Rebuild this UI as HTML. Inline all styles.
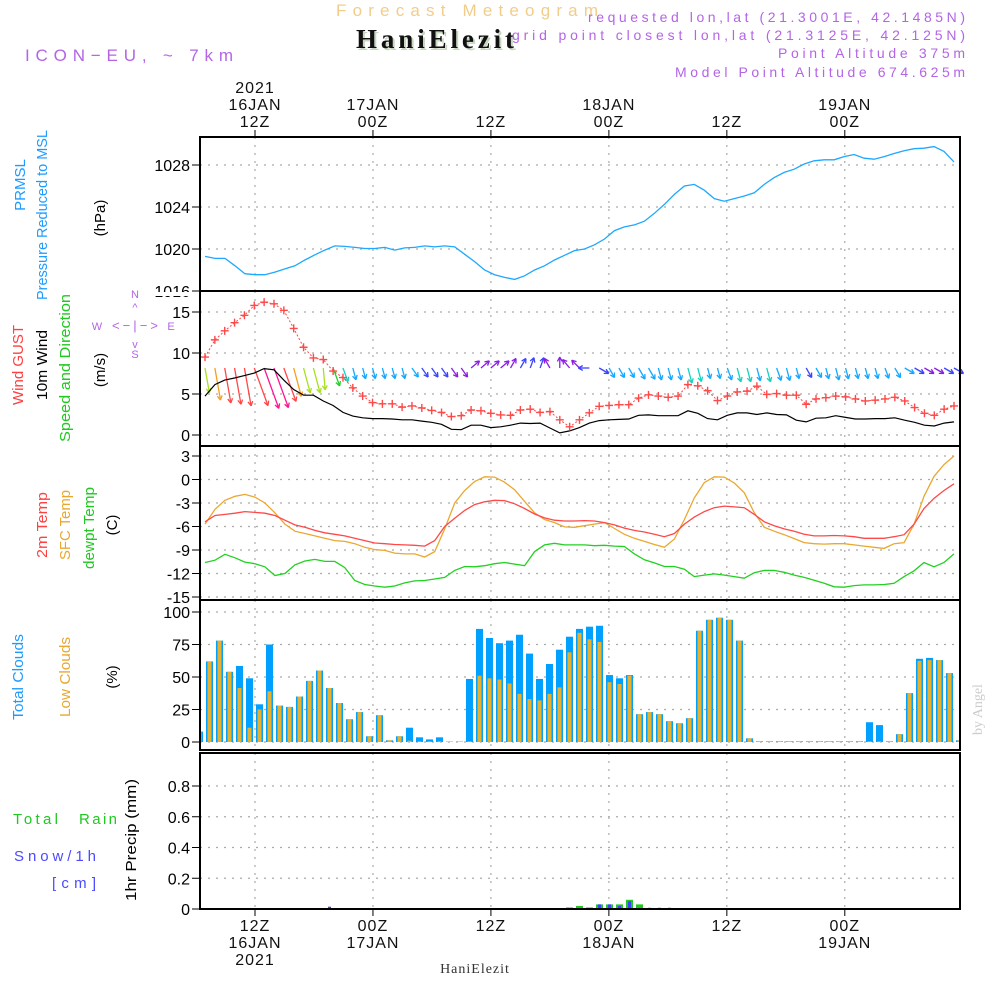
<!DOCTYPE html>
<html><head><meta charset="utf-8"><style>
html,body{margin:0;padding:0;background:#fff;}
svg{display:block;font-family:"Liberation Sans",sans-serif;}
</style></head><body>
<svg id="chart" width="1000" height="1000" viewBox="0 0 1000 1000" xmlns="http://www.w3.org/2000/svg">
<text x="467" y="16" text-anchor="middle" font-size="17" fill="#f2cd8a" textLength="262" lengthAdjust="spacing">Forecast Meteogram</text>
<text x="437" y="50" text-anchor="middle" font-family="Liberation Serif, serif" font-weight="bold" font-size="27" fill="#c8d8c0" textLength="158" lengthAdjust="spacing">HaniElezit</text>
<text x="435" y="48" text-anchor="middle" font-family="Liberation Serif, serif" font-weight="bold" font-size="27" fill="#111" textLength="158" lengthAdjust="spacing">HaniElezit</text>
<g fill="#b464e6" font-size="14" text-anchor="end">
<text x="965" y="22" textLength="377" lengthAdjust="spacing">requested lon,lat (21.3001E, 42.1485N)</text>
<text x="965" y="40" textLength="453" lengthAdjust="spacing">grid point closest lon,lat (21.3125E, 42.125N)</text>
<text x="965" y="58" textLength="187" lengthAdjust="spacing">Point Altitude 375m</text>
<text x="965" y="77" textLength="290" lengthAdjust="spacing">Model Point Altitude 674.625m</text>
</g>
<text x="25" y="61" font-size="17" fill="#b464e6" textLength="208" lengthAdjust="spacing">ICON−EU, ~ 7km</text>
<text transform="translate(982,735) rotate(-90)" font-family="Liberation Serif, serif" font-size="14" fill="#ccc">by Angel</text>
<text x="475" y="973" text-anchor="middle" font-family="Liberation Serif, serif" font-size="14" fill="#333" letter-spacing="1">HaniElezit</text>

<g font-size="15">
<text transform="translate(25,185) rotate(-90)" text-anchor="middle" fill="#1e9bff">PRMSL</text>
<text transform="translate(47,215) rotate(-90)" text-anchor="middle" fill="#1e9bff" textLength="170" lengthAdjust="spacingAndGlyphs">Pressure Reduced to MSL</text>
<text transform="translate(105,218) rotate(-90)" text-anchor="middle" fill="#000">(hPa)</text>
<text transform="translate(23,365) rotate(-90)" text-anchor="middle" fill="#ff4040" textLength="80" lengthAdjust="spacingAndGlyphs">Wind GUST</text>
<text transform="translate(47,365) rotate(-90)" text-anchor="middle" fill="#000" textLength="70" lengthAdjust="spacingAndGlyphs">10m Wind</text>
<text transform="translate(70,368) rotate(-90)" text-anchor="middle" fill="#20c820" textLength="148" lengthAdjust="spacingAndGlyphs">Speed and Direction</text>
<text transform="translate(105,370) rotate(-90)" text-anchor="middle" fill="#000">(m/s)</text>
<text transform="translate(47,525) rotate(-90)" text-anchor="middle" fill="#ff4040" textLength="66" lengthAdjust="spacingAndGlyphs">2m Temp</text>
<text transform="translate(70,525) rotate(-90)" text-anchor="middle" fill="#e8a830" textLength="70" lengthAdjust="spacingAndGlyphs">SFC Temp</text>
<text transform="translate(94,528) rotate(-90)" text-anchor="middle" fill="#20c820" textLength="82" lengthAdjust="spacingAndGlyphs">dewpt Temp</text>
<text transform="translate(117,525) rotate(-90)" text-anchor="middle" fill="#000">(C)</text>
<text transform="translate(23,677) rotate(-90)" text-anchor="middle" fill="#1e9bff" textLength="86" lengthAdjust="spacingAndGlyphs">Total Clouds</text>
<text transform="translate(70,677) rotate(-90)" text-anchor="middle" fill="#e8a830" textLength="80" lengthAdjust="spacingAndGlyphs">Low Clouds</text>
<text transform="translate(117,677) rotate(-90)" text-anchor="middle" fill="#000">(%)</text>
<text transform="translate(136,840) rotate(-90)" text-anchor="middle" fill="#000" textLength="122" lengthAdjust="spacingAndGlyphs">1hr Precip (mm)</text>
<text x="13" y="824" fill="#20c820" textLength="45" lengthAdjust="spacing">Total</text>
<text x="79" y="824" fill="#20c820" textLength="38" lengthAdjust="spacing">Rain</text>
<text x="14" y="861" fill="#4a4aff" textLength="82" lengthAdjust="spacing">Snow/1h</text>
<text x="52" y="888" fill="#4a4aff" textLength="44" lengthAdjust="spacing">[cm]</text>
</g>
<g fill="#b464e6" stroke="none" font-size="11" text-anchor="middle">
<text x="97" y="330">W</text><text x="171" y="330">E</text><text x="135" y="298">N</text><text x="135" y="358">S</text>
<text x="135" y="330" font-size="13" textLength="46" lengthAdjust="spacing">&lt;−|−&gt;</text>
<text x="135" y="311" font-size="11">^</text><text x="135" y="348" font-size="11">v</text>
</g>
<g id="plot"></g>
</svg>
<script>
// ---------- data ----------
const pressure = [1019.3,1019.1,1019.1,1018.4,1017.65,1017.55,1017.55,1017.8,1018.1,1018.4,1018.95,1019.45,1019.9,1020.3,1020.25,1020.15,1020.05,1020.05,1020.15,1019.9,1020.1,1020.15,1020.3,1020.2,1020.3,1020.2,1019.5,1018.8,1018.0,1017.55,1017.3,1017.1,1017.45,1018.0,1018.4,1018.95,1019.4,1019.85,1020.0,1020.4,1020.95,1021.75,1022.1,1022.3,1022.65,1023.4,1024.25,1025.2,1026.0,1026.15,1025.6,1024.8,1024.55,1024.8,1025.05,1025.35,1026.15,1026.8,1027.3,1027.6,1028.1,1028.4,1028.5,1028.5,1028.8,1029.0,1028.65,1028.55,1028.8,1029.1,1029.35,1029.55,1029.6,1029.75,1029.3,1028.3];
const gust = [9.5,11.6,12.7,13.7,14.6,15.8,16.2,16.0,15.2,13.0,10.7,9.4,9.2,7.8,7.0,5.75,4.75,3.95,3.8,3.8,3.4,3.55,3.3,3.0,2.75,2.25,2.35,3.05,2.95,2.65,2.45,2.4,3.05,3.15,2.75,2.85,1.85,1.0,1.85,2.7,3.5,3.6,3.7,3.7,4.5,4.9,4.75,4.6,4.75,6.15,6.0,5.4,4.2,4.75,5.25,5.35,5.95,4.95,5.05,4.85,4.85,3.75,4.4,4.55,4.75,4.65,4.4,4.15,4.25,4.4,4.6,4.15,3.35,2.65,2.4,3.15,3.55];
const windSpeed = [4.75,6.15,6.7,6.95,7.25,7.55,8.1,7.95,6.7,5.55,4.85,4.85,4.15,3.6,2.75,2.3,2.1,2.0,2.0,1.95,1.85,1.85,1.7,1.55,1.3,0.7,0.65,1.2,1.2,0.9,1.0,1.2,1.45,1.4,1.45,0.85,0.25,0.5,0.9,1.45,1.75,1.85,1.9,1.95,2.4,2.45,2.35,2.35,2.35,2.95,2.65,2.0,1.85,2.4,2.7,2.7,2.5,2.7,2.5,2.45,1.8,1.6,2.05,2.1,2.35,2.15,1.95,1.95,2.0,2.0,2.1,1.8,1.55,1.2,1.1,1.45,1.6];
const windDir = [350,350,350,350,350,340,340,340,340,345,345,345,355,340,340,345,345,345,345,345,345,325,325,325,325,325,325,230,230,230,230,210,210,200,200,150,180,140,135,90,300,330,330,330,330,330,345,345,345,345,345,345,345,340,345,345,345,345,340,345,345,330,330,345,345,345,345,345,345,340,330,300,300,300,300,300,300];
const temp2m = [-5.4,-4.6,-4.45,-4.3,-4.1,-4.2,-4.3,-4.6,-5.2,-5.8,-6.1,-6.5,-6.8,-7.0,-7.2,-7.5,-7.8,-8.1,-8.2,-8.3,-8.35,-8.4,-8.5,-7.8,-6.0,-4.95,-3.95,-3.2,-2.85,-2.65,-2.7,-3.1,-3.7,-4.4,-4.9,-5.2,-5.3,-5.3,-5.25,-5.3,-5.5,-5.8,-6.2,-6.5,-6.7,-7.0,-7.3,-6.9,-5.7,-4.8,-4.1,-3.6,-3.4,-3.5,-3.6,-4.45,-5.4,-5.9,-6.3,-6.6,-7.0,-7.2,-7.2,-7.15,-7.2,-7.3,-7.5,-7.5,-7.5,-7.3,-7.05,-5.7,-3.7,-2.4,-1.4,-0.55];
const tempSfc = [-5.7,-3.8,-2.65,-2.15,-1.9,-2.25,-3.0,-4.25,-5.7,-6.6,-6.9,-7.2,-7.5,-7.8,-7.9,-8.2,-8.65,-8.95,-9.05,-9.4,-9.5,-9.5,-9.9,-9.2,-6.3,-3.0,-1.4,-0.25,0.35,0.3,-0.35,-1.3,-2.8,-4.25,-5.1,-5.5,-6.05,-6.1,-5.9,-5.7,-5.5,-6.25,-7.0,-7.5,-7.9,-8.3,-8.65,-7.6,-5.1,-2.35,-0.4,0.35,0.3,-0.45,-1.7,-4.25,-6.1,-6.6,-7.05,-7.55,-8.05,-8.2,-8.25,-8.2,-8.2,-8.35,-8.5,-8.65,-8.8,-8.2,-8.05,-5.7,-2.15,0.4,1.9,3.0];
const dewpt = [-10.6,-10.3,-9.55,-10.0,-10.55,-10.75,-11.15,-12.25,-12.0,-10.9,-10.4,-10.2,-10.45,-10.45,-11.25,-12.9,-13.4,-13.6,-13.75,-13.6,-13.2,-12.95,-12.9,-12.7,-12.5,-11.6,-11.1,-11.15,-11.0,-10.75,-10.6,-10.8,-11.0,-9.2,-8.35,-8.15,-8.35,-8.35,-8.35,-8.45,-8.4,-8.5,-8.55,-9.5,-10.25,-10.65,-11.1,-11.1,-11.45,-12.4,-12.2,-12.05,-12.2,-12.4,-12.6,-11.9,-11.6,-11.6,-11.85,-12.2,-12.5,-12.85,-13.25,-13.7,-13.75,-13.55,-13.45,-13.45,-13.4,-13.25,-12.4,-11.65,-10.6,-11.15,-10.6,-9.5];
const totalClouds = [8,62,78,54,58.5,49,29,75,28,27,35,47,55,41.5,30,17.5,23,4.4,20.6,1.3,4.4,11,3.6,2,3.6,0.3,0.3,48.5,87,80,76,78,82.5,68,48.5,60,71,81,87,88.7,89.4,51.5,49,51.5,21.4,23,21.4,16,14.4,18.3,85.6,94,95.6,94,78,2.8,0.5,0.5,0.5,0.5,0.5,0.5,0.5,0.5,0.5,0.5,0.5,15.2,13,0.5,6,37.6,64,64.7,63,53,1.3];
const lowClouds = [8,62,78,54,41.5,11,25,39,28,27,35,47,55,41.5,30,17.5,23,4.4,20.6,1.3,4.4,1,0.5,0.5,0.5,0.3,0.3,0.5,51,49,48,45,37,33,32,37,42,69,84,79,77,46,44.6,51,21.4,23,21.4,16,14.4,18.3,85.6,94,95.6,94,78,2.8,0.5,0.5,0.5,0.5,0.5,0.5,0.5,0.5,0.5,0.5,0.5,0.5,0.5,0.5,6,37.6,62.4,63,63,53,1.3];
const rainIdx = [13,37,38,39,40,41,42,43,44,45,46,47];
const rainVal = [0.005,0.01,0.02,0.01,0.03,0.03,0.03,0.06,0.03,0.0,0.0,0.0];
const snowVal = [0.015,0.0,0.0,0.0,0.03,0.03,0.02,0.05,0.0,0.008,0.008,0.008];
const timeTickHours = [12,24,36,48,60,72];
const topTickDays = ["2021\n16JAN","17JAN","","18JAN","","19JAN"];
const tickHourLabels = ["12Z","00Z","12Z","00Z","12Z","00Z"];
const pressureTicks = [1016,1020,1024,1028];
const windTicks = [0,5,10,15];
const tempTicks = [3,0,-3,-6,-9,-12,-15];
const cloudTicks = [0,25,50,75,100];
const precipTicks = [0,0.2,0.4,0.6,0.8];

// ---------- scales ----------
const X0 = 200, X1 = 960;
const xHour = h => 255 + (h - 12) * 9.83;
const xLine = (k, n) => 205 + k * (749 / (n - 1));
const xBar = i => 199.5 + i * 10;
const lin = (d0, d1, r0, r1) => v => r0 + (v - d0) * (r1 - r0) / (d1 - d0);
const yP = lin(1016, 1028, 291, 165);
const yW = lin(0, 15, 435, 312);
const yT = lin(3, -15, 456, 597);
const yC = lin(0, 100, 742, 612);
const yR = lin(0, 0.8, 909, 786);
const panels = [
  {name:'pressure', top:137, bot:291, ticks:pressureTicks, y:yP, fmt:v=>v},
  {name:'wind', top:291, bot:446, ticks:windTicks, y:yW, fmt:v=>v},
  {name:'temp', top:446, bot:600, ticks:tempTicks, y:yT, fmt:v=>v},
  {name:'cloud', top:600, bot:750, ticks:cloudTicks, y:yC, fmt:v=>v},
  {name:'precip', top:753, bot:909, ticks:precipTicks, y:yR, fmt:v=>v===0?'0':v.toFixed(1)}
];
const NS = 'http://www.w3.org/2000/svg';
const plot = document.getElementById('plot');
function mk(tag, attrs, parent) {
  const e = document.createElementNS(NS, tag);
  for (const k in attrs) e.setAttribute(k, attrs[k]);
  (parent || plot).appendChild(e);
  return e;
}

// ---------- panels, grid, ticks ----------
panels.forEach(p => {
  const g = mk('g', {});
  
  
  const clip = mk('clipPath', {id: 'clip-' + p.name}, g);
  mk('rect', {x: X0, y: p.top, width: X1 - X0, height: p.bot - p.top}, clip);
  p.ticks.forEach(v => {
    const y = p.y(v);
    if (y > p.top + 1 && y < p.bot - 1) {
      const gl = mk('line', {x1: X0, x2: X1, y1: y, y2: y, stroke: '#aaa', 'stroke-dasharray': '2,6', 'stroke-width': 1.2}, g);
      
      
    }
    mk('line', {x1: X0 - 8, x2: X0, y1: y, y2: y, stroke: '#000', 'stroke-width': 1}, g);
    const t = mk('text', {x: X0 - 10, y: y + 6, 'text-anchor': 'end', 'font-size': 16, fill: '#000'}, g);
    t.textContent = p.fmt(v);
    
    
  });
  timeTickHours.forEach(h => {
    const gv = mk('line', {x1: xHour(h), x2: xHour(h), y1: p.top, y2: p.bot, stroke: '#aaa', 'stroke-dasharray': '2,6', 'stroke-width': 1.2}, g);
    
    
  });
  p.g = g;
});
const pressCover = mk('rect', {x: 140, y: 292, width: 60, height: 4, fill: '#fff'});



// ---------- time axes ----------
timeTickHours.forEach((h, i) => {
  const x = xHour(h);
  mk('line', {x1: x, x2: x, y1: 137, y2: 130, stroke: '#000'});
  mk('line', {x1: x, x2: x, y1: 909, y2: 916, stroke: '#000'});
  const top = mk('text', {x: x, y: 127, 'text-anchor': 'middle', 'font-size': 16, fill: '#111', 'letter-spacing': 1});
  top.textContent = tickHourLabels[i];
  
  
  const bot = mk('text', {x: x, y: 931, 'text-anchor': 'middle', 'font-size': 16, fill: '#111', 'letter-spacing': 1});
  bot.textContent = tickHourLabels[i];
  
  
  const parts = topTickDays[i] ? topTickDays[i].split('\n') : [];
  parts.reverse().forEach((s, j) => {
    const t = mk('text', {x: x, y: 110 - j * 17, 'text-anchor': 'middle', 'font-size': 16, fill: '#111', 'letter-spacing': 1});
    t.textContent = s;
    
    
    const b = mk('text', {x: x, y: 948 + j * 17, 'text-anchor': 'middle', 'font-size': 16, fill: '#111', 'letter-spacing': 1});
    b.textContent = s;
    
    
  });
});

function path(arr, xf, yf) {
  return arr.map((v, k) => (k ? 'L' : 'M') + xf(k, arr.length).toFixed(1) + ',' + yf(v).toFixed(1)).join('');
}

// ---------- pressure ----------
const pl = mk('path', {d: path(pressure, xLine, yP), fill: 'none', stroke: '#1ea8ff', 'stroke-width': 1.3, 'clip-path': 'url(#clip-pressure)'});



// ---------- wind ----------
const windColor = s => s < 1.3 ? '#8a1ee6' : s < 1.8 ? '#3a44ff' : s < 2.6 ? '#14a8ff' : s < 3.2 ? '#14d2c0' : s < 4 ? '#22d022' : s < 5.5 ? '#a8e020' : s < 6.6 ? '#f4a020' : s < 7.7 ? '#ff4848' : '#ff1493';
windSpeed.forEach((s, k) => {
  const x = xLine(k, windSpeed.length), y = 368;
  const a = (windDir[k] + 180) * Math.PI / 180;
  const L = Math.max(s * 5.3, 11);
  const x2 = x + Math.sin(a) * L, y2 = y - Math.cos(a) * L;
  const c = windColor(s);
  const g = mk('g', {stroke: c, 'stroke-width': 1.3, fill: 'none'});
  
  
  mk('line', {x1: x, y1: y, x2: x2, y2: y2}, g);
  const h = 5;
  [0.5, -0.5].forEach(d => {
    mk('line', {x1: x2, y1: y2, x2: x2 - Math.sin(a + d) * h, y2: y2 + Math.cos(a + d) * h}, g);
  });
});
const wl = mk('path', {d: path(windSpeed, xLine, yW), fill: 'none', stroke: '#000', 'stroke-width': 1.2});


const gl = mk('path', {d: path(gust, xLine, yW), fill: 'none', stroke: '#ff4848', 'stroke-width': 1, 'stroke-dasharray': '2,2'});


gust.forEach((v, k) => {
  const x = xLine(k, gust.length), y = yW(v);
  const m = mk('path', {d: `M${x - 4},${y}h8M${x},${y - 4}v8`, stroke: '#ff4848', 'stroke-width': 1.4});
  
  
});

// ---------- temperature ----------
[[tempSfc, '#eaa830', 'sfc-temp-line'], [temp2m, '#ff4848', 'temp-2m-line'], [dewpt, '#22d022', 'dewpoint-line']].forEach(([arr, c, n]) => {
  const l = mk('path', {d: path(arr, xLine, yT), fill: 'none', stroke: c, 'stroke-width': 1.3});
  
  
});

// ---------- clouds ----------
totalClouds.forEach((v, i) => {
  const x = xBar(i);
  const b = mk('rect', {x: x - 3.5, y: yC(v), width: 7, height: yC(0) - yC(v), fill: '#00a0ff', 'clip-path': 'url(#clip-cloud)'});
  
  
  const lv = lowClouds[i];
  const lb = mk('rect', {x: x - 2, y: yC(lv), width: 4, height: yC(0) - yC(lv), fill: '#e8b030', 'clip-path': 'url(#clip-cloud)'});
  
  
});

// ---------- precip ----------
rainIdx.forEach((i, j) => {
  const x = xBar(i);
  const r = rainVal[j], s = snowVal[j];
  const rb = mk('rect', {x: x - 3.5, y: yR(r), width: 7, height: yR(0) - yR(r), fill: '#22c822'});
  
  
  const sb = mk('rect', {x: x - 1.5, y: yR(s), width: 3, height: yR(0) - yR(s), fill: '#3a44ff'});
  
  
});
mk('line', {x1: X0, x2: X1, y1: 908.5, y2: 908.5, stroke: '#444', 'stroke-dasharray': '6,3', 'stroke-width': 1});

// ---------- frames ----------
panels.forEach(p => {
  const f = mk('rect', {x: X0, y: p.top, width: X1 - X0, height: p.bot - p.top, fill: 'none', stroke: '#000', 'stroke-width': 2});
  
  
});
</script>
</body></html>
